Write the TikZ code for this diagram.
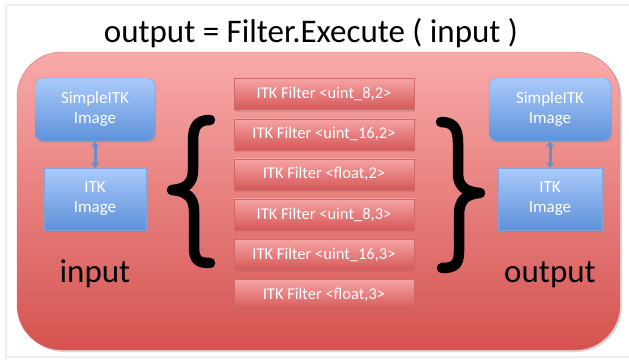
\documentclass[tikz,border=0pt]{standalone}
\usepackage{fontspec}
\setmainfont{Carlito}
\usetikzlibrary{arrows.meta, shadows}

\definecolor{redtop}{HTML}{F8AAAA}
\definecolor{redbot}{HTML}{D45350}
\definecolor{redline}{HTML}{D87070}
\definecolor{filtertop}{HTML}{F6A4A4}
\definecolor{filterbot}{HTML}{D65858}
\definecolor{filterline}{HTML}{D06868}
\definecolor{bluetop}{HTML}{AACAFA}
\definecolor{bluebot}{HTML}{5E91DA}
\definecolor{blueline}{HTML}{7FA5DC}
\definecolor{arrowblue}{HTML}{6A8DC8}

\tikzset{
	imgbox/.style = {draw = blueline, top color = bluetop, bottom color = bluebot, text = white, align = center, inner sep = 0pt, font = \fontsize{17}{20}\selectfont, drop shadow = {opacity = 0.25, shadow xshift = 1pt, shadow yshift = -1.5pt}},
	filterbox/.style = {draw = filterline, top color = filtertop, bottom color = filterbot, text = white, inner sep = 0pt, minimum width = 180pt, minimum height = 31pt, font = \fontsize{16.5}{20}\selectfont, drop shadow = {opacity = 0.3, shadow xshift = 0.5pt, shadow yshift = -2pt}},
	biglabel/.style = {inner sep = 0pt, anchor = base, font = \fontsize{33}{36}\selectfont},
	imgarrow/.style = {{Stealth[length = 6pt, width = 9pt]}-{Stealth[length = 6pt, width = 9pt]}, line width = 3pt, draw = arrowblue},
	bracestroke/.style = {line width = 10.5pt, line cap = round, line join = round}
}

\begin{document}
\begin{tikzpicture}[x = 1pt, y = -1pt]

	\useasboundingbox [fill = white] (0, 0) rectangle (629, 359);

	% Slide frame

	\draw [gray!12, line width = 1.5pt] (6, 359) -- (6, 5) -- (629, 5);
	\draw [gray!12, line width = 1.5pt] (6, 357) -- (629, 357);

	% Title

	\node [biglabel] (title) at (311, 42) {output = Filter.Execute ( input )};

	% Red panel

	\draw [draw = redline, top color = redtop, bottom color = redbot, rounded corners = 45pt, drop shadow = {opacity = 0.3, shadow xshift = 2pt, shadow yshift = -2pt}] (17, 52) rectangle (620, 350);

	% Input side

	\node [imgbox, rounded corners = 8pt, minimum width = 120pt, minimum height = 63pt] (sitkin) at (95, 109.5) {SimpleITK\\Image};
	\node [imgbox, minimum width = 102pt, minimum height = 62pt] (itkin) at (95, 199) {ITK\\Image};
	\draw [imgarrow] (sitkin.south) -- (itkin.north);
	\node [biglabel] (inlabel) at (95, 282) {input};

	% Output side

	\node [imgbox, rounded corners = 8pt, minimum width = 122pt, minimum height = 63pt] (sitkout) at (550, 109.5) {SimpleITK\\Image};
	\node [imgbox, minimum width = 104pt, minimum height = 62pt] (itkout) at (550, 199) {ITK\\Image};
	\draw [imgarrow] (sitkout.south) -- (itkout.north);
	\node [biglabel] (outlabel) at (550, 282) {output};

	% Filters

	\foreach \ftype [count = \i] in {{uint\_8,2}, {uint\_16,2}, {float,2}, {uint\_8,3}, {uint\_16,3}, {float,3}}
		\node [filterbox] (filter\i) at (324, {54 + 40.1 * \i}) {ITK Filter <\ftype>};

	% Braces

	\draw [bracestroke] (210, 120) .. controls (197, 120) and (193, 127) .. (193, 141) -- (193, 170)
		.. controls (193, 183) and (186, 189) .. (172, 190)
		.. controls (186, 191) and (194, 197) .. (194, 211) -- (194, 247)
		.. controls (194, 260) and (198, 263) .. (210, 263);
	\draw [bracestroke] (441, 122) .. controls (454, 122) and (458, 129) .. (458, 143) -- (458, 173)
		.. controls (458, 186) and (465, 192) .. (480, 193)
		.. controls (465, 194) and (459, 201) .. (459, 215) -- (459, 251)
		.. controls (459, 264) and (455, 268) .. (442, 268);

\end{tikzpicture}
\end{document}
